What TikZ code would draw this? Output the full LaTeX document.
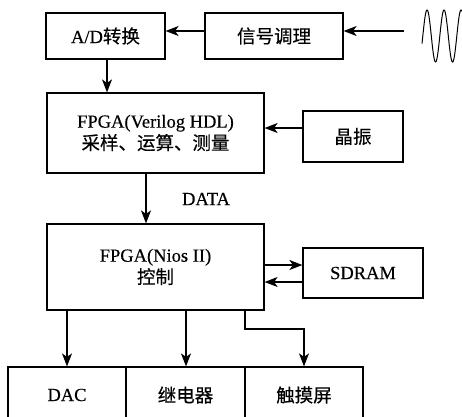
\documentclass[tikz,border=0pt]{standalone}
\usepackage{fontspec}
\setmainfont{Liberation Serif}[FakeBold=0.4]
\newfontfamily\cjk{Noto Sans CJK SC}[FakeBold=0.3]
\usetikzlibrary{arrows.meta}

\begin{document}
\begin{tikzpicture}[x=1pt,y=-1pt,
  font=\fontsize{18.5}{22}\selectfont,
  blk/.style={draw, line width=1.2pt, rectangle, inner sep=0pt, align=center},
  arr/.style={line width=1.2pt, -{Stealth[length=13pt,width=10pt,inset=3.5pt]}}]
  \useasboundingbox (0,0) rectangle (462,416);
  \clip (0,0) rectangle (462,416);

  % top row
  \node[blk, minimum width=119pt, minimum height=46pt] (ad) at (105.5,36) {A/D{\cjk 转换}};
  \node[blk, minimum width=138pt, minimum height=46pt] (sig) at (274,36) {\cjk 信号调理};

  % FPGA stages
  \node[blk, minimum width=217pt, minimum height=80pt] (ver) at (155.5,133)
    {FPGA(Verilog HDL)\\{\cjk 采样、运算、测量}};
  \node[blk, minimum width=100pt, minimum height=51pt] (xtal) at (353,136.5) {\cjk 晶振};
  \node[blk, minimum width=217pt, minimum height=86pt] (nios) at (155.5,267)
    {FPGA(Nios II)\\{\cjk 控制}};
  \node[blk, minimum width=120pt, minimum height=50pt] (sdram) at (363,273) {SDRAM};
  \node (data) at (206,199) {DATA};

  % peripherals
  \node[blk, minimum width=118pt, minimum height=56pt] (dac) at (67,395) {DAC};
  \node[blk, minimum width=119pt, minimum height=56pt] (relay) at (185.5,395) {\cjk 继电器};
  \node[blk, minimum width=118pt, minimum height=56pt] (touch) at (304,395) {\cjk 触摸屏};

  % input signal
  \coordinate (wavein) at (404,31);
  \draw[line width=1pt, domain=422:462, samples=120, smooth]
    plot (\x, {36 - 26*sin(360*(\x-422)/17 - 17)});

  % connectors
  \draw[arr] (wavein) -- (sig.east |- wavein);
  \draw[arr] (sig.west |- wavein) -- (ad.east |- wavein);
  \draw[arr] (ad.south -| 107,0) -- (ver.north -| 107,0);
  \draw[arr] (xtal.west |- 0,128) -- (ver.east |- 0,128);
  \draw[arr] (ver.south -| 146,0) -- (nios.north -| 146,0);
  \draw[arr] (nios.east |- 0,265) -- (sdram.west |- 0,265);
  \draw[arr] (sdram.west |- 0,282) -- (nios.east |- 0,282);
  \draw[arr] (nios.south -| dac.north) -- (dac.north);
  \draw[arr] (nios.south -| 186,0) -- (relay.north -| 186,0);
  \draw[arr] (nios.south -| 245,0) -- (245,329) -| (touch.north);
\end{tikzpicture}
\end{document}
